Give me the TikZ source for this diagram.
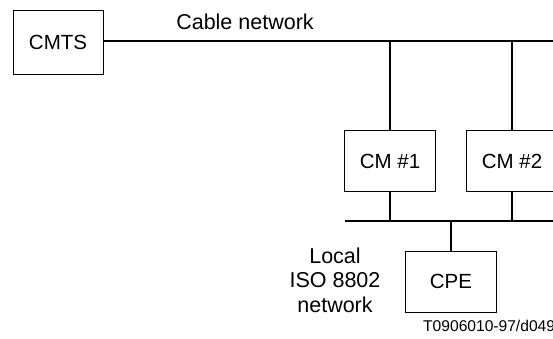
\documentclass[tikz,border=0pt]{standalone}
\usepackage{fontspec}
\setmainfont{Liberation Sans}
\usetikzlibrary{positioning}

\begin{document}
\begin{tikzpicture}[
  x=1pt, y=1pt,
  unit/.style={rectangle, draw, line width=0.8pt, inner sep=0pt,
               minimum width=91pt, minimum height=61pt,
               font=\fontsize{20.5}{24}\selectfont},
  conn/.style={line width=1.6pt},
  label/.style={align=center, font=\fontsize{21.5}{24.5}\selectfont}
]
  \useasboundingbox (0,0) rectangle (553,338);
  \clip (0,0) rectangle (553,338);
  % stations
  \node[unit, minimum width=90pt, minimum height=64pt] (cmts) at (58,296) {CMTS};
  \node[unit] (cm1) at (390,177) {CM \#1};
  \node[unit] (cm2) at (512,177) {CM \#2};
  \node[unit] (cpe) at (451,56.5) {CPE};
  % cable network
  \coordinate (netend) at (570,297);
  \draw[conn] (cmts.east |- netend) -- (netend);
  \node[label] (cablelbl) at (245,316) {Cable network};
  \draw[conn] (cm1.north) -- (cm1.north |- netend);
  \draw[conn] (cm2.north) -- (cm2.north |- netend);
  % local network
  \coordinate (busL) at (345,117);
  \coordinate (busR) at (570,117);
  \draw[conn] (busL) -- (busR);
  \draw[conn] (cm1.south) -- (cm1.south |- busL);
  \draw[conn] (cm2.south) -- (cm2.south |- busL);
  \draw[conn] (cpe.north) -- (cpe.north |- busL);
  \node[label] (locallbl) at (335,58) {Local\\ISO 8802\\network};
  \node[anchor=west, inner sep=0pt, font=\fontsize{15.6}{19}\selectfont] (figid) at (423,12) {T0906010-97/d049};
\end{tikzpicture}
\end{document}
